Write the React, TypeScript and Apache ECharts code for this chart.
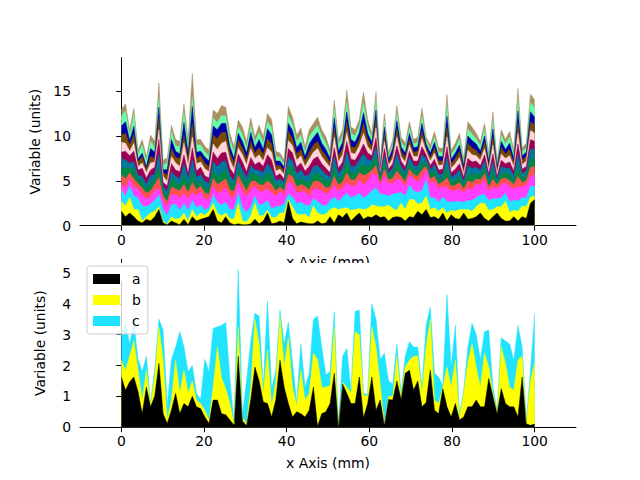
import React, { useEffect, useRef } from "react";
import * as echarts from "echarts";

const xTicks = [0, 20, 40, 60, 80, 100];
const topYTicks = [0, 5, 10, 15];
const bottomYTicks = [0, 1, 2, 3, 4, 5];
const N = 100;
const xValues = Array.from({ length: N }, (_, i) => (i * 100) / (N - 1));

// bottom panel (a, b, c)
const botA = [1.63,1.2,1.47,1.63,1.15,0.44,1.3,0.66,1.0,2.07,0.44,0.12,0.55,1.1,0.44,0.77,0.66,1.0,0.66,0.6,0.33,0.12,0.88,0.88,0.44,0.4,0.23,0.06,2.3,0.2,0.05,0.88,1.95,1.5,0.82,0.77,0.33,0.88,2.17,1.3,0.77,0.33,0.5,0.44,0.33,0.55,1.3,0.02,0.44,0.5,0.77,1.75,0.02,1.4,1.1,0.77,0.77,1.63,0.3,0.77,1.63,0.55,0.88,0.06,0.9,0.88,1.5,0.9,1.75,1.85,1.2,1.5,0.66,0.8,1.85,0.55,0.44,1.25,0.66,0.33,0.77,0.23,0.33,0.66,0.66,0.88,0.66,0.66,1.58,1.0,0.44,1.25,0.77,0.66,0.66,0.33,1.63,0.1,0.06,0.1];
const botB = [0.54,0.65,0.83,1.17,0.7,0.44,0.55,0.11,0.63,1.18,1.73,0.11,0.33,1.07,0.66,1.08,0.44,0.5,0.22,0.17,0.22,0.11,0.42,1.72,1.16,0.85,0.54,0.04,0.95,0.1,0.05,0.42,1.55,1.2,0.28,1.73,0.33,0.62,1.43,0.65,2.13,0.97,0.2,1.41,0.55,0.55,1.1,2.18,0.86,0.8,0.58,1.5,0.02,0.05,0.2,0.33,2.33,1.37,0.74,0.23,1.62,2.05,0.52,0.04,0.1,0.12,0.8,0.1,0.2,0.32,1.1,0.8,0.44,1.8,1.65,0.33,0.33,0.05,1.29,0.97,1.4,0.1,0.77,1.44,2.04,1.07,0.64,1.74,0.37,0.1,0.06,1.35,1.3,0.64,0.54,1.84,0.67,0.05,1.44,2.0];
const botC = [0.83,1.55,0.4,0.6,0.35,0.92,0.45,0.03,0.27,0.25,0.98,0.47,1.32,0.43,2.0,0.75,0.7,0.5,0.22,0.13,1.65,1.57,1.9,0.66,1.7,2.15,0.83,0.02,1.85,0.1,1.4,1.5,0.2,0.9,0.2,1.6,0.59,0.35,0.2,0.75,0.5,0.8,0.1,0.85,0.42,0.65,1.1,1.4,1.3,0.4,0.45,0.5,0.02,0.85,1.25,0.1,0.65,0.8,0.06,0.05,0.75,0.9,0.8,2.3,0.5,0.4,0.4,0.1,0.35,0.6,0.3,0.3,0.2,0.7,0.4,0.87,0.86,0.05,2.35,0.65,1.13,0.07,0.1,0.5,0.67,1.05,0.9,0.7,1.2,0.2,0.05,0.3,0.73,1.4,0.97,1.13,0.3,0.05,0.35,1.6];

// top panel, 13 stacked layers (bottom to top)
const topA = [1.6,1.0,1.4,1.0,0.5,0.3,0.7,0.5,1.0,1.8,0.3,0.1,0.5,0.3,0.1,0.7,0.1,1.0,0.5,0.7,0.85,1.0,1.8,0.5,0.3,1.0,0.3,0.1,0.2,0.1,0.1,0.2,0.7,0.2,0.5,1.4,0.2,0.3,0.5,0.3,2.7,0.8,0.2,0.4,0.3,0.2,0.2,0.5,0.2,0.3,1.0,0.3,1.2,0.9,1.4,0.5,1.0,1.4,0.7,1.0,0.9,1.2,0.9,1.0,0.5,0.9,1.0,0.9,0.5,1.0,0.9,1.6,1.2,1.8,0.9,1.0,0.7,1.4,0.5,1.2,0.8,0.7,1.4,0.7,0.8,1.0,1.4,0.8,0.5,1.0,1.4,0.8,0.5,0.5,1.0,0.5,1.0,0.8,2.5,2.9];
const topB = [1.1,1.2,1.7,0.8,1.3,0.2,0.3,0.9,0.6,0.3,0.2,0.05,0.5,0.4,0.7,0.7,0.4,0.8,0.5,0.7,0.3,0.6,0.7,0.9,0.8,0.4,0.5,0.6,2.3,0.4,0.3,0.9,1.8,0.9,0.6,0.3,0.7,0.6,0.9,1.1,0.2,1.3,1.1,0.8,1.0,0.7,2.0,0.9,1.0,1.0,0.8,1.7,0.6,1.0,0.6,1.2,0.8,0.5,1.1,0.9,1.4,1.0,1.2,1.1,1.8,1.0,0.7,1.6,1.3,1.9,2.0,0.8,1.3,1.5,0.9,1.0,0.9,0.6,0.9,0.5,0.8,1.1,0.4,1.1,0.8,1.1,1.1,1.7,1.2,0.8,0.7,1.3,2.2,1.0,0.7,1.1,1.2,1.3,0.7,0.4];
const topC = [1.3,1.1,1.3,1.5,1.3,1.7,1.1,1.0,1.2,1.3,1.3,1.0,1.3,1.7,0.9,1.1,1.2,1.0,1.0,0.9,0.6,0.4,0.9,1.2,1.2,1.2,1.0,1.1,1.1,1.5,1.1,1.0,0.8,1.2,1.3,1.1,1.0,1.2,0.8,1.0,0.6,1.1,1.2,1.4,1.0,1.3,0.8,1.3,1.1,0.9,1.0,1.2,0.9,1.3,1.6,1.4,1.5,1.7,1.3,1.5,1.6,2.0,1.4,1.4,1.0,1.6,1.9,1.2,1.5,1.6,1.0,1.3,1.4,1.8,1.3,1.1,1.0,1.2,1.3,0.9,1.1,0.9,0.8,1.0,1.2,1.0,0.9,1.0,1.1,1.2,0.9,1.0,0.9,1.2,1.1,1.2,0.9,1.0,1.2,1.1];
const topD = [0.6,0.9,0.8,1.0,1.0,1.2,0.9,0.8,1.1,0.7,1.0,0.9,1.2,1.0,1.4,1.1,1.3,0.9,1.3,1.5,1.2,0.9,1.0,1.0,1.5,1.6,1.4,1.3,1.2,1.8,1.7,1.9,1.1,1.5,1.4,1.3,1.7,1.2,1.6,1.0,1.3,1.5,1.1,1.2,1.5,1.0,1.1,1.4,1.6,1.3,1.0,1.3,1.1,1.0,1.2,1.3,1.1,1.5,1.4,1.6,1.8,1.5,1.0,2.0,1.4,1.2,1.6,1.3,1.0,1.1,1.3,1.2,1.4,1.1,1.6,1.8,1.5,1.2,1.5,1.3,1.2,1.4,1.0,1.4,1.2,1.5,1.1,1.6,1.0,1.3,1.1,1.4,1.2,1.6,1.3,1.5,1.2,1.4,1.1,1.3];
const topE = [1.1,1.0,0.7,0.9,0.6,0.8,0.6,0.7,0.7,1.3,0.5,0.6,0.8,0.7,0.8,1.0,0.7,1.1,0.7,0.6,0.7,0.6,0.9,1.0,1.1,1.0,0.8,0.7,0.8,0.9,0.7,0.9,0.6,0.8,0.7,0.9,1.0,0.6,0.5,0.5,0.9,0.8,0.7,0.8,0.6,0.8,0.8,0.9,0.8,0.7,0.5,1.0,0.7,0.7,1.1,0.7,0.7,0.8,1.1,0.8,0.5,1.0,0.3,0.8,0.4,0.6,0.9,0.5,0.6,0.7,0.5,0.6,0.9,0.4,0.5,0.6,0.5,0.5,1.1,0.5,0.6,0.7,0.5,0.8,0.8,0.6,0.6,0.7,0.5,0.9,0.4,0.7,0.5,0.7,0.5,1.2,0.5,0.5,1.0,0.9];
const topF = [0.8,1.2,0.5,1.1,0.4,0.7,0.5,0.8,0.6,1.2,0.6,0.5,1.0,0.8,0.6,1.1,0.8,1.3,0.6,0.7,0.6,0.7,1.0,0.9,1.0,1.1,0.9,0.6,0.7,0.8,0.8,1.0,0.7,0.9,0.6,1.0,0.9,0.5,0.5,0.4,1.0,0.9,0.8,0.7,0.5,0.9,0.8,0.9,0.7,0.8,0.6,1.1,0.6,0.8,1.2,0.8,0.7,0.7,1.2,0.8,0.6,1.1,0.3,0.8,0.4,0.5,1.0,0.6,0.5,0.7,0.5,0.5,0.9,0.4,0.5,0.7,0.5,0.5,1.2,0.5,0.6,0.7,0.4,0.9,0.8,0.7,0.5,0.7,0.5,1.0,0.3,0.7,0.6,0.7,0.5,1.2,0.5,0.6,1.0,0.9];
const topG = [1.0,0.9,0.6,0.8,0.5,0.6,0.5,0.9,0.5,1.4,0.4,0.7,0.7,0.6,0.7,1.2,0.7,1.2,0.8,0.6,0.7,0.5,0.8,1.1,1.2,0.9,0.7,0.6,0.9,0.7,0.6,0.8,0.5,0.7,0.8,0.9,0.8,0.6,0.4,0.5,0.9,0.8,0.7,0.9,0.6,0.8,0.9,0.8,0.8,0.7,0.5,1.1,0.7,0.7,1.1,0.7,0.8,0.8,1.2,0.7,0.5,1.0,0.3,0.7,0.4,0.6,0.9,0.5,0.6,0.6,0.5,0.6,0.8,0.5,0.5,0.6,0.6,0.4,1.1,0.5,0.6,0.7,0.4,0.8,0.8,0.6,0.6,0.7,0.5,0.9,0.4,0.7,0.5,0.7,0.5,1.2,0.5,0.5,1.1,0.9];
const topH = [0.7,1.0,0.8,1.2,0.6,0.9,0.7,0.6,0.8,1.6,0.5,0.6,0.9,0.7,0.8,1.0,0.6,1.4,0.7,0.8,0.6,0.6,1.1,0.9,1.0,1.0,0.8,0.7,0.8,0.9,0.7,0.9,0.6,0.9,0.7,1.0,1.0,0.5,0.6,0.4,1.0,0.9,0.7,0.8,0.6,0.9,0.8,1.0,0.7,0.7,0.5,1.0,0.6,0.7,1.2,0.8,0.7,0.7,1.1,0.8,0.5,1.0,0.3,0.8,0.4,0.5,0.9,0.6,0.5,0.7,0.5,0.6,0.9,0.4,0.5,0.6,0.5,0.5,1.2,0.5,0.6,0.7,0.5,0.8,0.7,0.7,0.5,0.7,0.5,0.9,0.3,0.7,0.5,0.7,0.5,1.2,0.5,0.5,1.0,1.0];
const topK = [1.1,0.9,0.5,0.9,0.4,0.6,0.6,0.8,0.6,1.1,0.7,0.5,0.8,0.8,0.6,1.3,0.9,1.2,0.8,0.6,0.8,0.7,0.9,1.0,1.1,1.2,0.9,0.6,0.7,0.8,0.8,1.0,0.7,0.8,0.6,0.8,0.9,0.6,0.5,0.5,0.9,0.8,0.8,0.8,0.5,0.8,0.8,0.9,0.8,0.7,0.6,1.2,0.7,0.8,1.0,0.7,0.7,0.8,1.2,0.7,0.5,1.1,0.3,0.8,0.4,0.6,1.0,0.5,0.6,0.7,0.5,0.5,0.9,0.4,0.5,0.7,0.5,0.5,1.1,0.5,0.6,0.7,0.4,0.9,0.8,0.6,0.6,0.7,0.5,1.0,0.4,0.7,0.6,0.7,0.5,1.2,0.5,0.6,1.0,0.9];
const topL = [0.8,1.1,0.7,1.0,0.5,0.7,0.4,0.7,0.4,1.3,0.4,0.7,0.9,0.6,0.9,0.9,0.8,1.5,0.6,0.7,0.6,0.6,1.0,1.2,1.2,1.0,0.8,0.7,0.8,0.8,0.6,0.8,0.6,0.8,0.7,1.0,0.9,0.6,0.4,0.4,1.0,0.8,0.7,0.7,0.6,0.8,0.8,0.8,0.7,0.7,0.5,1.0,0.6,0.7,1.2,0.7,0.7,0.7,1.1,0.8,0.5,1.0,0.2,0.8,0.3,0.5,0.9,0.6,0.5,0.6,0.5,0.6,0.8,0.4,0.4,0.6,0.5,0.4,1.1,0.5,0.6,0.7,0.4,0.8,0.8,0.6,0.5,0.7,0.4,0.9,0.3,0.7,0.5,0.7,0.4,1.2,0.5,0.5,1.0,0.9];
const topM = [1.0,1.3,0.5,0.9,0.3,0.4,0.3,0.9,0.7,1.2,0.3,0.6,1.0,0.7,0.5,1.4,0.6,1.9,0.7,0.5,0.7,0.6,1.0,1.0,1.0,1.0,0.7,0.5,0.8,0.7,0.7,1.0,0.6,0.9,0.6,1.1,1.0,0.5,0.5,0.4,0.9,0.9,0.7,0.8,0.5,0.9,0.8,1.0,0.8,0.7,0.5,1.1,0.6,0.7,1.1,0.8,0.6,0.8,1.2,0.7,0.5,1.0,0.3,0.8,0.4,0.6,0.9,0.5,0.5,0.7,0.5,0.5,0.9,0.4,0.5,0.6,0.5,0.5,1.2,0.5,0.6,0.7,0.5,0.8,0.8,0.7,0.5,0.7,0.5,0.9,0.4,0.7,0.5,0.7,0.5,1.3,0.5,0.5,1.1,0.9];
const topN = [1.1,1.2,0.6,1.3,0.6,0.9,0.6,0.8,0.5,1.0,0.6,0.7,0.9,0.6,0.8,1.1,0.8,1.0,0.8,0.7,0.6,0.6,0.9,0.8,0.9,0.8,0.8,0.7,0.7,0.8,0.6,0.8,0.6,0.8,0.7,0.8,0.8,0.5,0.4,0.4,0.9,0.7,0.7,0.8,0.5,0.8,0.8,0.8,0.8,0.7,0.4,1.0,0.7,0.7,1.1,0.7,0.7,0.7,1.1,0.8,0.5,1.0,0.2,0.7,0.3,0.5,0.8,0.5,0.6,0.6,0.4,0.5,0.8,0.4,0.4,0.6,0.5,0.4,1.2,0.5,0.5,0.7,0.4,0.8,0.7,0.6,0.6,0.7,0.4,0.9,0.3,0.7,0.6,0.7,0.4,1.2,0.4,0.5,1.0,1.0];
const topO = [0.7,0.8,0.6,0.7,0.4,0.6,0.5,0.7,0.7,1.7,0.5,0.6,0.7,0.7,0.6,1.0,0.7,2.7,0.6,0.6,0.6,0.6,0.9,1.0,1.1,1.0,0.7,0.6,0.8,0.8,0.7,0.8,0.6,0.8,0.7,0.9,0.9,0.6,0.5,0.4,1.0,0.8,0.7,0.8,0.6,0.8,0.8,0.9,0.7,0.7,0.5,1.0,0.6,0.7,1.3,0.7,0.7,0.7,1.2,0.7,0.5,1.0,0.3,0.8,0.4,0.5,0.9,0.6,0.5,0.7,0.5,0.6,0.9,0.4,0.5,0.6,0.5,0.5,1.2,0.5,0.6,0.6,0.4,0.8,0.8,0.6,0.5,0.7,0.5,1.0,0.3,0.6,0.5,0.6,0.5,1.3,0.5,0.5,1.0,0.9];

const topLayers = [topA, topB, topC, topD, topE, topF, topG, topH, topK, topL, topM, topN, topO];
const topNames = ["t1", "t2", "t3", "t4", "t5", "t6", "t7", "t8", "t9", "t10", "t11", "t12", "t13"];
const topColors = ["#000000", "#ffff00", "#1fe3ff", "#ff40ff", "#ff5050", "#008844", "#0077a0", "#990055", "#ffd5dc", "#7a4a00", "#0000aa", "#66ffaa", "#ab9064"];

const botLayers = [botA, botB, botC];
const botNames = ["a", "b", "c"];
const botColors = ["#000000", "#ffff00", "#1fe3ff"];

const FONT = "DejaVu Sans";
const FS = 13.9;

function makeAxisX(gridIndex: number) {
  return {
    type: "value",
    gridIndex,
    min: -10,
    max: 110,
    name: "x Axis (mm)",
    nameLocation: "middle",
    nameGap: 29,
    nameTextStyle: { color: "#000", fontFamily: FONT, fontSize: FS },
    axisLine: { show: true, onZero: false, lineStyle: { color: "#000", width: 1 } },
    axisTick: { show: true, customValues: xTicks, length: 5, lineStyle: { color: "#000", width: 1 } },
    axisLabel: { customValues: xTicks, color: "#000", fontFamily: FONT, fontSize: FS, margin: 7 },
    splitLine: { show: false },
  };
}

function makeAxisY(gridIndex: number, max: number, ticks: number[]) {
  return {
    type: "value",
    gridIndex,
    min: 0,
    max,
    name: "Variable (units)",
    nameLocation: "middle",
    nameGap: 33,
    nameTextStyle: { color: "#000", fontFamily: FONT, fontSize: FS },
    axisLine: { show: true, lineStyle: { color: "#000", width: 1 } },
    axisTick: { show: true, customValues: ticks, length: 5, lineStyle: { color: "#000", width: 1 } },
    axisLabel: { customValues: ticks, color: "#000", fontFamily: FONT, fontSize: FS, margin: 9 },
    splitLine: { show: false },
  };
}

// Stacked areas: cumulative sums, drawn from the top layer down so lower layers cover upper fills.
function buildStack(layers: number[][], names: string[], colors: string[], idx: number, zBase: number) {
  const cum: number[][] = [];
  layers.forEach((vals, k) => {
    cum.push(vals.map((v, i) => (k === 0 ? v : cum[k - 1][i] + v)));
  });
  const out: any[] = [];
  for (let k = layers.length - 1; k >= 0; k--) {
    const color = colors[k];
    out.push({
      name: names[k],
      type: "line",
      xAxisIndex: idx,
      yAxisIndex: idx,
      data: cum[k].map((v, i) => [xValues[i], v]),
      showSymbol: false,
      symbol: "none",
      color,
      itemStyle: { color },
      lineStyle: { width: 0.5, color },
      areaStyle: { color, opacity: 1, origin: "start" },
      emphasis: { disabled: true },
      z: zBase,
      z2: layers.length - k,
    });
  }
  return out;
}

export default function App() {
  const ref = useRef<HTMLDivElement>(null);
  useEffect(() => {
    if (!ref.current) return;
    const chart = echarts.init(ref.current, undefined, { renderer: "svg" });
    const series: any[] = [
      ...buildStack(topLayers, topNames, topColors, 0, 2),
      ...buildStack(botLayers, botNames, botColors, 1, 2),
    ];
    chart.setOption({
      animation: false,
      backgroundColor: "#ffffff",
      textStyle: { fontFamily: FONT },
      grid: [
        { left: 80, top: 57.6, width: 496, height: 168, containLabel: false },
        { left: 80, top: 259.2, width: 496, height: 168, containLabel: false },
      ],
      xAxis: [makeAxisX(0), makeAxisX(1)],
      yAxis: [makeAxisY(0, 18.75, topYTicks), makeAxisY(1, 5.45, bottomYTicks)],
      legend: {
        data: botNames,
        orient: "vertical",
        left: 87,
        top: 266,
        icon: "rect",
        itemWidth: 27,
        itemHeight: 10,
        itemGap: 7,
        padding: [6, 7, 6, 6],
        backgroundColor: "rgba(255,255,255,0.8)",
        borderColor: "#cccccc",
        borderWidth: 1,
        borderRadius: 3,
        selectedMode: false,
        textStyle: { color: "#000", fontFamily: FONT, fontSize: FS, padding: [0, 0, 0, 7] },
      },
      graphic: [
        {
          type: "rect",
          z: 1,
          silent: true,
          shape: { x: 81, y: 263, width: 495, height: 18 },
          style: { fill: "#ffffff" },
        },
      ],
      series,
    });
    return () => chart.dispose();
  }, []);
  return <div ref={ref} style={{ position: "fixed", left: 0, top: 0, width: 640, height: 480 }} />;
}
